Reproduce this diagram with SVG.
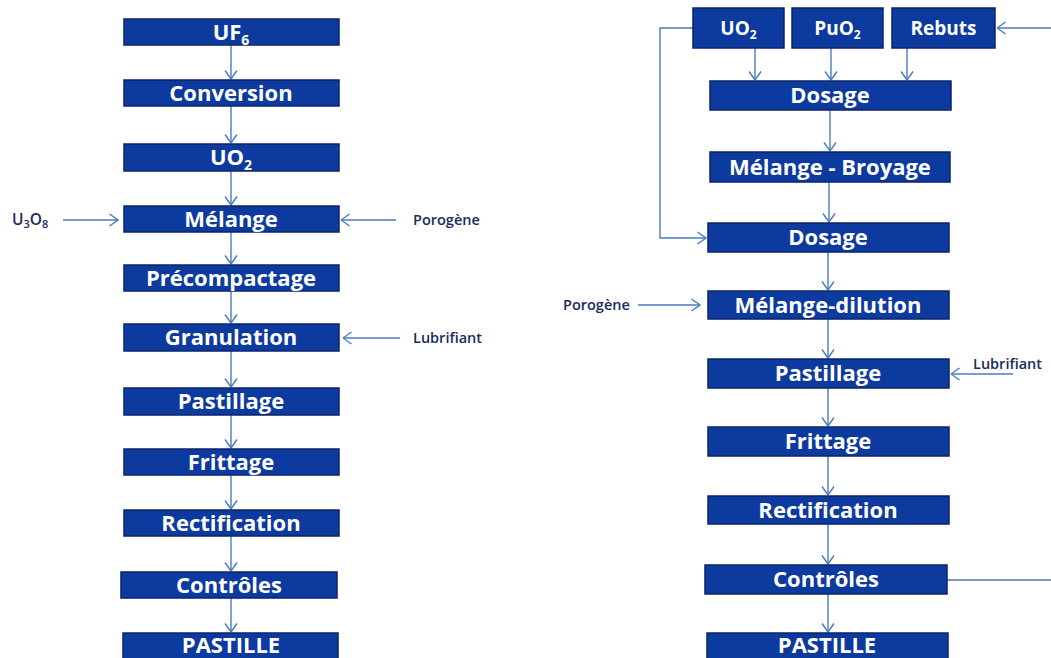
<svg xmlns="http://www.w3.org/2000/svg" width="1051" height="658" viewBox="0 0 1051 658">
<defs>
<style>
.box rect{fill:#0c3a9e;stroke:#0a2468;stroke-width:1.5}
.box text{fill:#fff;font-family:"Open Sans","Liberation Sans",sans-serif;font-weight:bold;font-size:22px;text-anchor:middle}
.lbl{fill:#1c2a5e;font-family:"Open Sans","Liberation Sans",sans-serif;font-weight:600;font-size:14.5px}
.conn path{fill:none;stroke:#4a7cc0;stroke-width:1.4;marker-end:url(#ah)}
</style>
<marker id="ah" viewBox="0 0 10 14" refX="9.5" refY="7" markerWidth="10" markerHeight="14" markerUnits="userSpaceOnUse" orient="auto">
<path d="M1,1 L9.5,7 L1,13" fill="none" stroke="#4a7cc0" stroke-width="1.4"/>
</marker>
</defs>
<rect width="1051" height="658" fill="#fff"/>

<g class="conn" id="connectors">
<path d="M231,45 V79"/>
<path d="M231,106 V143"/>
<path d="M231,171 V205"/>
<path d="M231,232 V264"/>
<path d="M231,291 V323"/>
<path d="M231,351 V387"/>
<path d="M231,415 V448"/>
<path d="M231,475 V509"/>
<path d="M231,536 V571"/>
<path d="M231,598 V632"/>
<path d="M63,220 H118"/>
<path d="M396,220 H341"/>
<path d="M400,338 H343"/>

<path d="M755,48 V80"/>
<path d="M831,48 V80"/>
<path d="M907,48 V80"/>
<path d="M830,110 V151"/>
<path d="M829,182 V222"/>
<path d="M828,252 V290"/>
<path d="M828,319 V358"/>
<path d="M828,388 V426"/>
<path d="M828,456 V495"/>
<path d="M828,524 V564"/>
<path d="M828,594 V632"/>
<path d="M693,28 H660 V238 H706"/>
<path d="M638,305 H700"/>
<path d="M1013,374 H951"/>
<path d="M947,580 H1060 V28 H997"/>
</g>

<g id="uf6" class="box"><rect x="124" y="19" width="215" height="26"/><text x="231" y="40">UF<tspan font-size="14" dy="5">6</tspan></text></g>
<g id="conversion" class="box"><rect x="124" y="80" width="215" height="26"/><text x="231" y="101">Conversion</text></g>
<g id="uo2-left" class="box"><rect x="124" y="144" width="215" height="27"/><text x="231" y="165">UO<tspan font-size="14" dy="5">2</tspan></text></g>
<g id="melange" class="box"><rect x="124" y="206" width="215" height="26"/><text x="231" y="227">Mélange</text></g>
<g id="precompactage" class="box"><rect x="124" y="265" width="215" height="26"/><text x="231" y="286">Précompactage</text></g>
<g id="granulation" class="box"><rect x="124" y="324" width="215" height="27"/><text x="231" y="345">Granulation</text></g>
<g id="pastillage-left" class="box"><rect x="124" y="388" width="215" height="27"/><text x="231" y="409">Pastillage</text></g>
<g id="frittage-left" class="box"><rect x="124" y="449" width="215" height="26"/><text x="231" y="470">Frittage</text></g>
<g id="rectification-left" class="box"><rect x="124" y="510" width="215" height="26"/><text x="231" y="531">Rectification</text></g>
<g id="controles-left" class="box"><rect x="121" y="572" width="216" height="26"/><text x="229" y="593">Contrôles</text></g>
<g id="pastille-left" class="box"><rect x="123" y="633" width="215" height="30"/><text x="231" y="653">PASTILLE</text></g>

<g id="u3o8"><text class="lbl" x="12" y="225" style="font-size:15.5px">U<tspan font-size="11" dy="3">3</tspan><tspan dy="-3">O</tspan><tspan font-size="11" dy="3">8</tspan></text></g>
<g id="porogene-left"><text class="lbl" x="413" y="225">Porogène</text></g>
<g id="lubrifiant-left"><text class="lbl" x="413" y="343">Lubrifiant</text></g>

<g id="uo2-right" class="box"><rect x="693" y="8" width="91" height="40"/><text x="738.5" y="35" style="font-size:19px">UO<tspan font-size="12" dy="4">2</tspan></text></g>
<g id="puo2" class="box"><rect x="792" y="8" width="91" height="40"/><text x="837.5" y="35" style="font-size:19px">PuO<tspan font-size="12" dy="4">2</tspan></text></g>
<g id="rebuts" class="box"><rect x="892" y="8" width="103" height="40"/><text x="943.5" y="35" style="font-size:19px">Rebuts</text></g>
<g id="dosage1" class="box"><rect x="710" y="81" width="241" height="29"/><text x="830" y="103">Dosage</text></g>
<g id="melange-broyage" class="box"><rect x="710" y="152" width="240" height="30"/><text x="830" y="175">Mélange - Broyage</text></g>
<g id="dosage2" class="box"><rect x="708" y="223" width="241" height="29"/><text x="828" y="245">Dosage</text></g>
<g id="melange-dilution" class="box"><rect x="708" y="291" width="241" height="28"/><text x="828" y="313">Mélange-dilution</text></g>
<g id="pastillage-right" class="box"><rect x="708" y="359" width="241" height="29"/><text x="828" y="381">Pastillage</text></g>
<g id="frittage-right" class="box"><rect x="708" y="427" width="241" height="29"/><text x="828" y="449">Frittage</text></g>
<g id="rectification-right" class="box"><rect x="708" y="496" width="241" height="28"/><text x="828" y="518">Rectification</text></g>
<g id="controles-right" class="box"><rect x="705" y="565" width="242" height="29"/><text x="826" y="587">Contrôles</text></g>
<g id="pastille-right" class="box"><rect x="707" y="633" width="241" height="30"/><text x="827" y="653">PASTILLE</text></g>

<g id="porogene-right"><text class="lbl" x="563" y="310">Porogène</text></g>
<g id="lubrifiant-right"><text class="lbl" x="973" y="369">Lubrifiant</text></g>
</svg>
